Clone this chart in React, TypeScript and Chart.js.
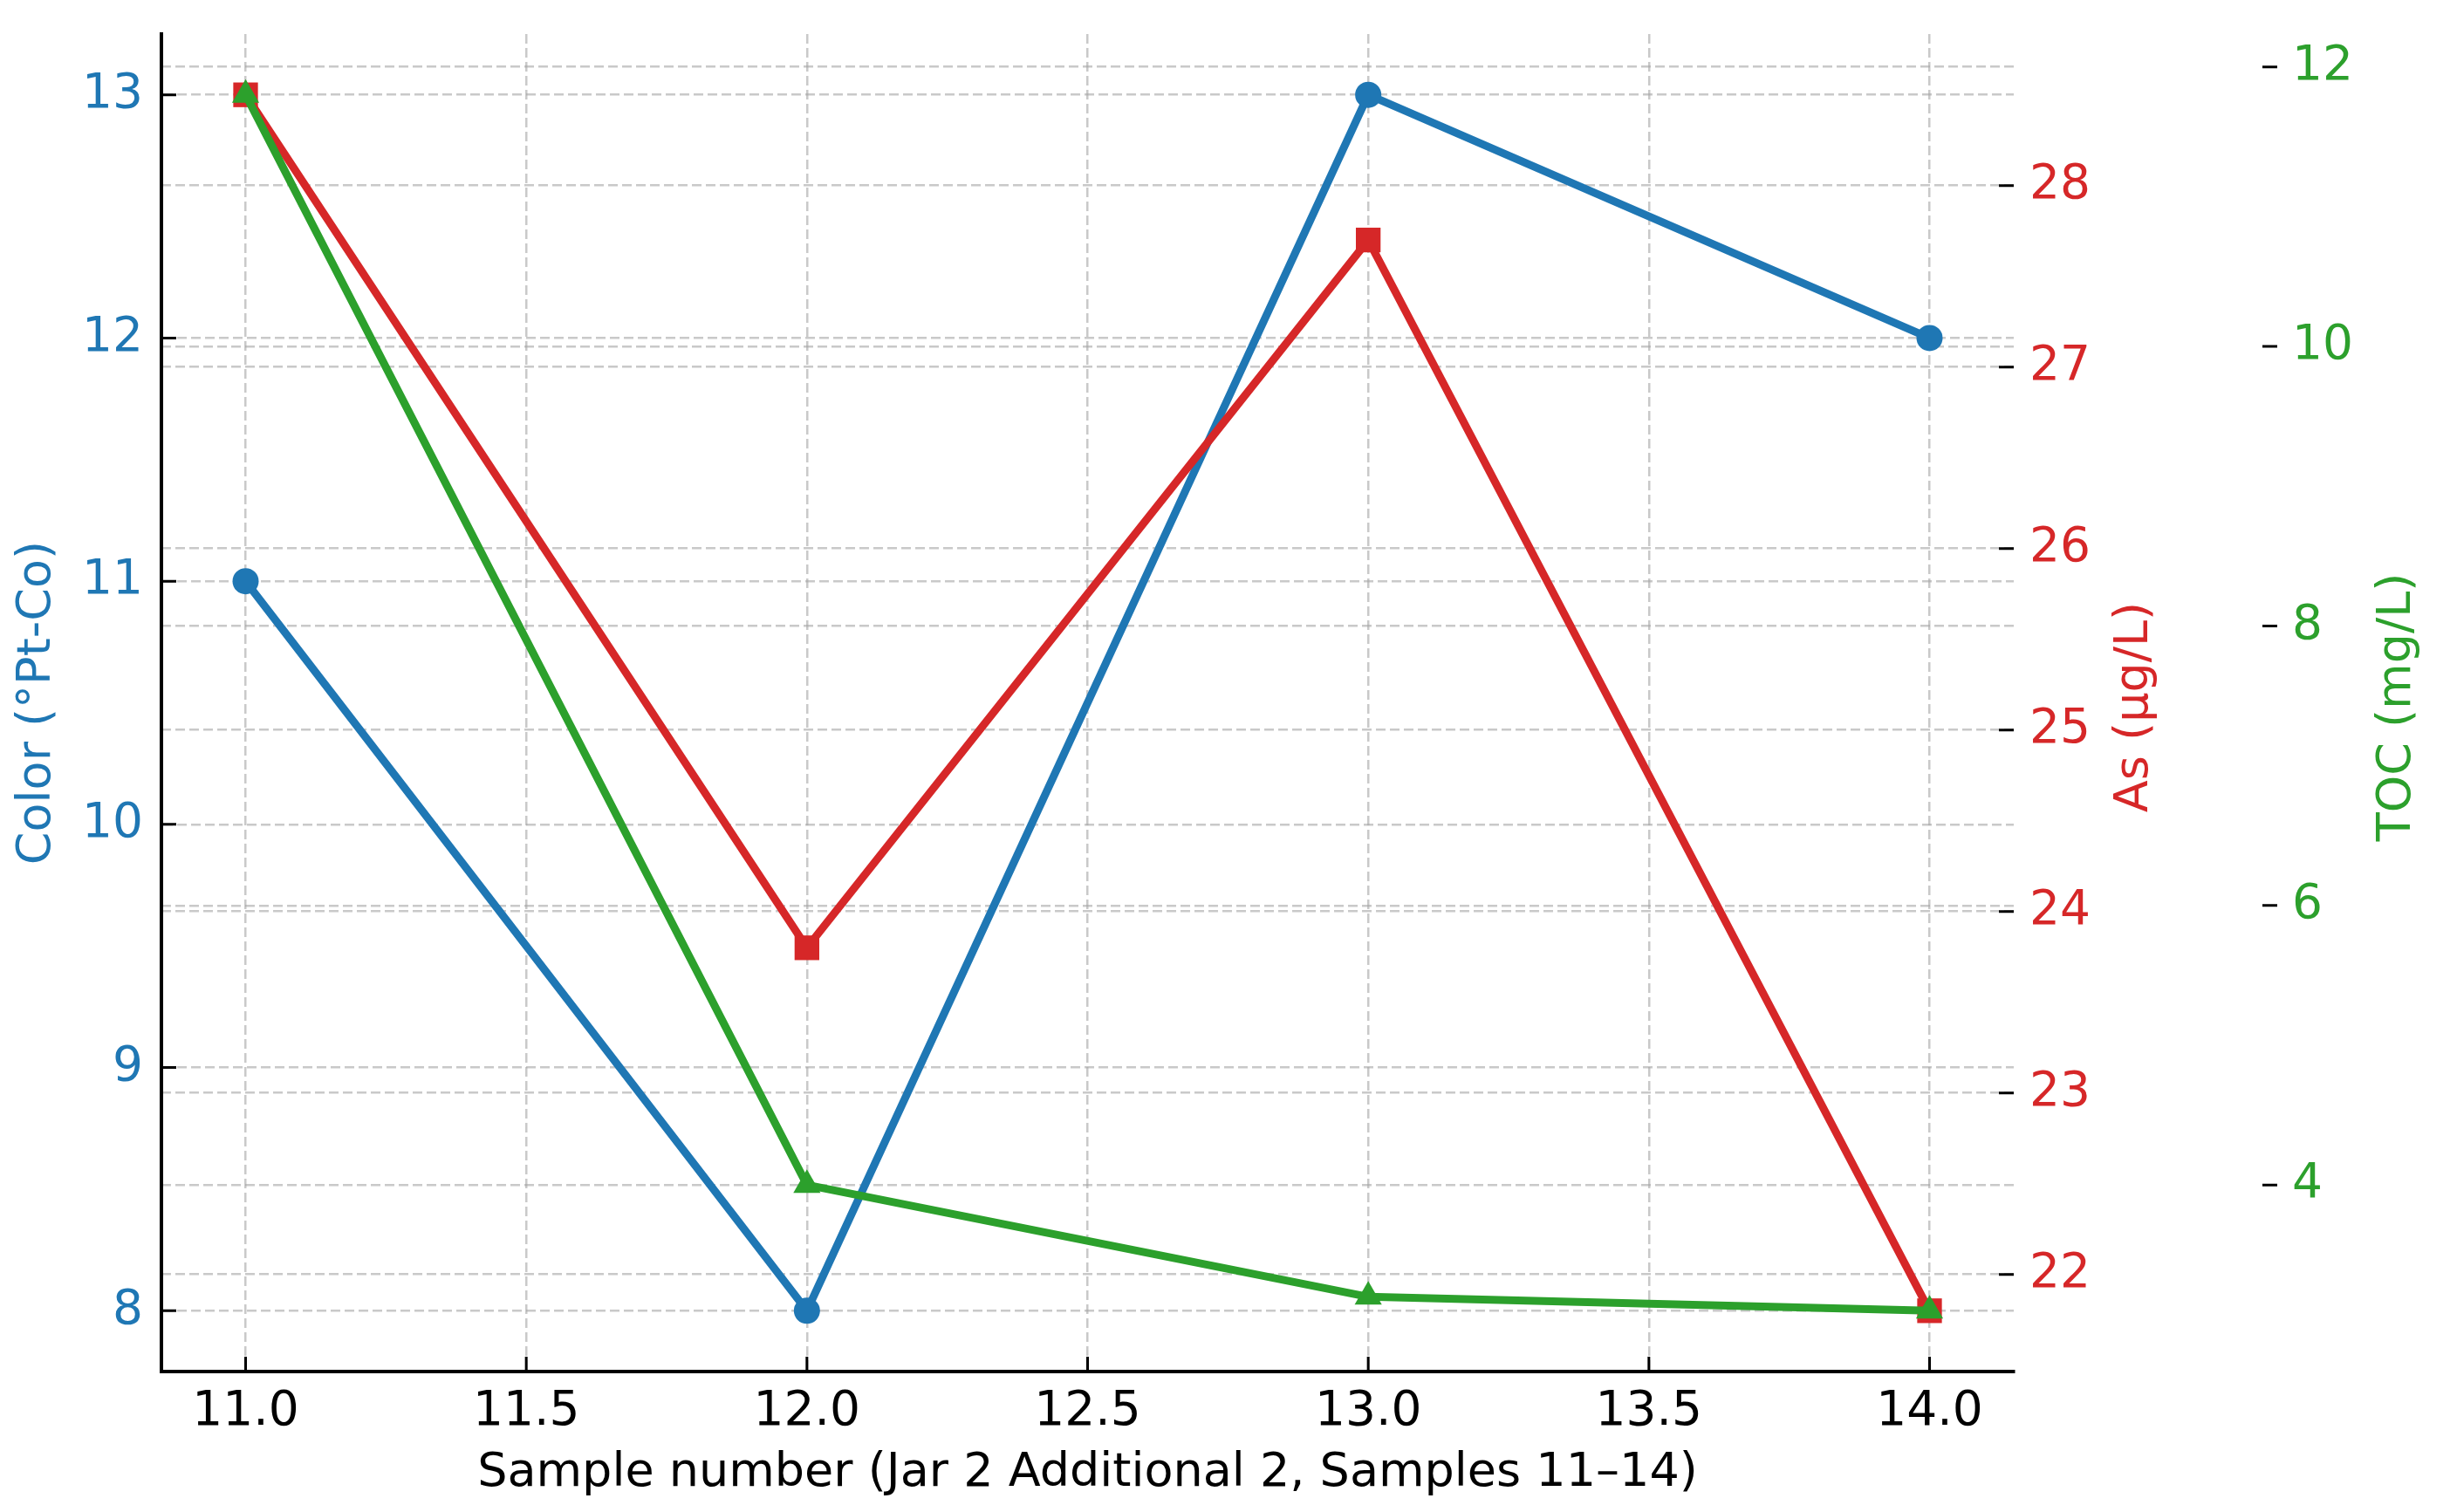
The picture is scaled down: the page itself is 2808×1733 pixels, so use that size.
import React, { useEffect, useRef } from 'react';
import { Chart, registerables } from 'chart.js';

Chart.register(...registerables);

// ---- data ----
const samples = [11, 12, 13, 14];
const colorValues = [11, 8, 13, 12];
const asValues = [28.5, 23.8, 27.7, 21.8];
const tocValues = [11.8, 4.0, 3.2, 3.1];

const xTicks = [11.0, 11.5, 12.0, 12.5, 13.0, 13.5, 14.0];
const colorTicks = [8, 9, 10, 11, 12, 13];
const asTicks = [22, 23, 24, 25, 26, 27, 28];
const tocTicks = [4, 6, 8, 10, 12];

const xTitle = 'Sample number (Jar 2 Additional 2, Samples 11–14)';
const colorTitle = 'Color (°Pt-Co)';
const asTitle = 'As (µg/L)';
const tocTitle = 'TOC (mg/L)';

// ---- style ----
const BLUE = '#1f77b4';
const RED = '#d62728';
const GREEN = '#2ca02c';
const FONT = '"DejaVu Sans", "Liberation Sans", sans-serif';
const TICK_SIZE = 55;
const TITLE_SIZE = 54;
const GRID_COLOR = 'rgba(165,165,165,0.6)';
const GRID_DASH = [11, 5];
const LINE_W = 9;

function padRange(vals: number[]) {
  const lo = Math.min(...vals);
  const hi = Math.max(...vals);
  const m = (hi - lo) * 0.05;
  return { min: lo - m, max: hi + m };
}

const noPad = (s: any) => {
  s.paddingTop = 0;
  s.paddingBottom = 0;
  s.paddingLeft = 0;
  s.paddingRight = 0;
};

const decorPlugin = {
  id: 'decor',
  afterDraw(chart: any) {
    const { ctx, chartArea, scales } = chart;
    const L = 17;
    ctx.save();
    ctx.strokeStyle = '#000';
    ctx.lineWidth = 3;
    ctx.beginPath();
    for (const t of scales.x.ticks) {
      const px = scales.x.getPixelForValue(t.value);
      ctx.moveTo(px, chartArea.bottom);
      ctx.lineTo(px, chartArea.bottom - L);
    }
    for (const t of scales.y.ticks) {
      const py = scales.y.getPixelForValue(t.value);
      ctx.moveTo(chartArea.left, py);
      ctx.lineTo(chartArea.left + L, py);
    }
    for (const t of scales.y1.ticks) {
      const py = scales.y1.getPixelForValue(t.value);
      ctx.moveTo(chartArea.right - L, py);
      ctx.lineTo(chartArea.right, py);
    }
    for (const t of scales.y2.ticks) {
      const py = scales.y2.getPixelForValue(t.value);
      ctx.moveTo(scales.y2.left - L, py);
      ctx.lineTo(scales.y2.left, py);
    }
    ctx.stroke();

    const cy = (chartArea.top + chartArea.bottom) / 2 + 5;
    ctx.font = `${TITLE_SIZE}px ${FONT}`;
    ctx.textAlign = 'center';
    ctx.textBaseline = 'middle';
    const drawTitle = (text: string, color: string, x: number) => {
      ctx.save();
      ctx.translate(x, cy);
      ctx.rotate(-Math.PI / 2);
      ctx.fillStyle = color;
      ctx.fillText(text, 0, 0);
      ctx.restore();
    };
    drawTitle(asTitle, RED, scales.y1.left + 139);
    drawTitle(tocTitle, GREEN, scales.y2.left + 138);
    ctx.restore();
  },
};

function App() {
  const canvasRef = useRef<HTMLCanvasElement | null>(null);

  useEffect(() => {
    const canvas = canvasRef.current;
    if (!canvas) return;
    const xr = padRange(samples);
    const cr = padRange(colorValues);
    const ar = padRange(asValues);
    const tr = padRange(tocValues);

    const mk = (vals: number[]) => samples.map((x, i) => ({ x, y: vals[i] }));

    const chart = new Chart(canvas, {
      type: 'line',
      data: {
        datasets: [
          {
            label: 'Color',
            data: mk(colorValues),
            yAxisID: 'y',
            borderColor: BLUE,
            backgroundColor: BLUE,
            borderWidth: LINE_W,
            pointStyle: 'circle',
            pointRadius: 15,
            pointBorderWidth: 0,
            borderJoinStyle: 'round',
            order: 3,
          },
          {
            label: 'As',
            data: mk(asValues),
            yAxisID: 'y1',
            borderColor: RED,
            backgroundColor: RED,
            borderWidth: LINE_W,
            pointStyle: 'rect',
            pointRadius: 20,
            pointBorderWidth: 0,
            borderJoinStyle: 'round',
            order: 2,
          },
          {
            label: 'TOC',
            data: mk(tocValues),
            yAxisID: 'y2',
            borderColor: GREEN,
            backgroundColor: GREEN,
            borderWidth: LINE_W,
            pointStyle: 'triangle',
            pointRadius: 18,
            pointBorderWidth: 0,
            borderJoinStyle: 'round',
            order: 1,
          },
        ] as any,
      },
      options: {
        animation: false,
        responsive: false,
        devicePixelRatio: 1,
        layout: { padding: { top: 39, left: 0, right: 0, bottom: 0 }, autoPadding: false },
        plugins: {
          legend: { display: false },
          tooltip: { enabled: false },
        },
        scales: {
          x: {
            type: 'linear',
            position: 'bottom',
            min: xr.min,
            max: xr.max,
            afterBuildTicks: (s: any) => {
              s.ticks = xTicks.map((v) => ({ value: v }));
            },
            afterFit: (s: any) => {
              s.height = 161;
              noPad(s);
            },
            ticks: {
              callback: (v: any) => Number(v).toFixed(1),
              color: '#000',
              font: { family: FONT, size: TICK_SIZE },
              padding: 14,
              maxRotation: 0,
              autoSkip: false,
            },
            grid: { color: GRID_COLOR, lineWidth: 2.5, drawTicks: false },
            border: { display: true, color: '#000', width: 4, dash: GRID_DASH },
            title: {
              display: true,
              text: xTitle,
              color: '#000',
              font: { family: FONT, size: TITLE_SIZE },
              padding: { top: 0, bottom: 12 },
            },
          },
          y: {
            type: 'linear',
            position: 'left',
            min: cr.min,
            max: cr.max,
            afterBuildTicks: (s: any) => {
              s.ticks = colorTicks.map((v) => ({ value: v }));
            },
            afterFit: (s: any) => {
              s.width = 185;
              noPad(s);
            },
            ticks: {
              callback: (v: any) => String(v),
              color: BLUE,
              font: { family: FONT, size: TICK_SIZE },
              padding: 21,
              autoSkip: false,
            },
            grid: { color: GRID_COLOR, lineWidth: 2.5, drawTicks: false },
            border: { display: true, color: '#000', width: 4, dash: GRID_DASH },
            title: {
              display: true,
              text: colorTitle,
              color: BLUE,
              font: { family: FONT, size: TITLE_SIZE },
              padding: { top: 11, bottom: 0 },
            },
          },
          y1: {
            type: 'linear',
            position: 'right',
            min: ar.min,
            max: ar.max,
            afterBuildTicks: (s: any) => {
              s.ticks = asTicks.map((v) => ({ value: v }));
            },
            afterFit: (s: any) => {
              s.width = 302;
              noPad(s);
            },
            ticks: {
              callback: (v: any) => String(v),
              color: RED,
              font: { family: FONT, size: TICK_SIZE },
              padding: 18,
              autoSkip: false,
            },
            grid: { color: GRID_COLOR, lineWidth: 2.5, drawTicks: false },
            border: { display: false, dash: GRID_DASH },
          },
          y2: {
            type: 'linear',
            position: 'right',
            min: tr.min,
            max: tr.max,
            afterBuildTicks: (s: any) => {
              s.ticks = tocTicks.map((v) => ({ value: v }));
            },
            afterFit: (s: any) => {
              s.width = 198;
              noPad(s);
            },
            ticks: {
              callback: (v: any) => String(v),
              color: GREEN,
              font: { family: FONT, size: TICK_SIZE },
              padding: 17,
              autoSkip: false,
            },
            grid: { color: GRID_COLOR, lineWidth: 2.5, drawTicks: false },
            border: { display: false, dash: GRID_DASH },
          },
        },
      } as any,
      plugins: [decorPlugin],
    });

    return () => {
      chart.destroy();
    };
  }, []);

  return (
    <div
      style={{
        position: 'fixed',
        left: 0,
        top: 0,
        width: 2808,
        height: 1733,
        background: '#fff',
      }}
    >
      <canvas ref={canvasRef} width={2808} height={1733} style={{ width: 2808, height: 1733, display: 'block' }} />
    </div>
  );
}

export default App;
